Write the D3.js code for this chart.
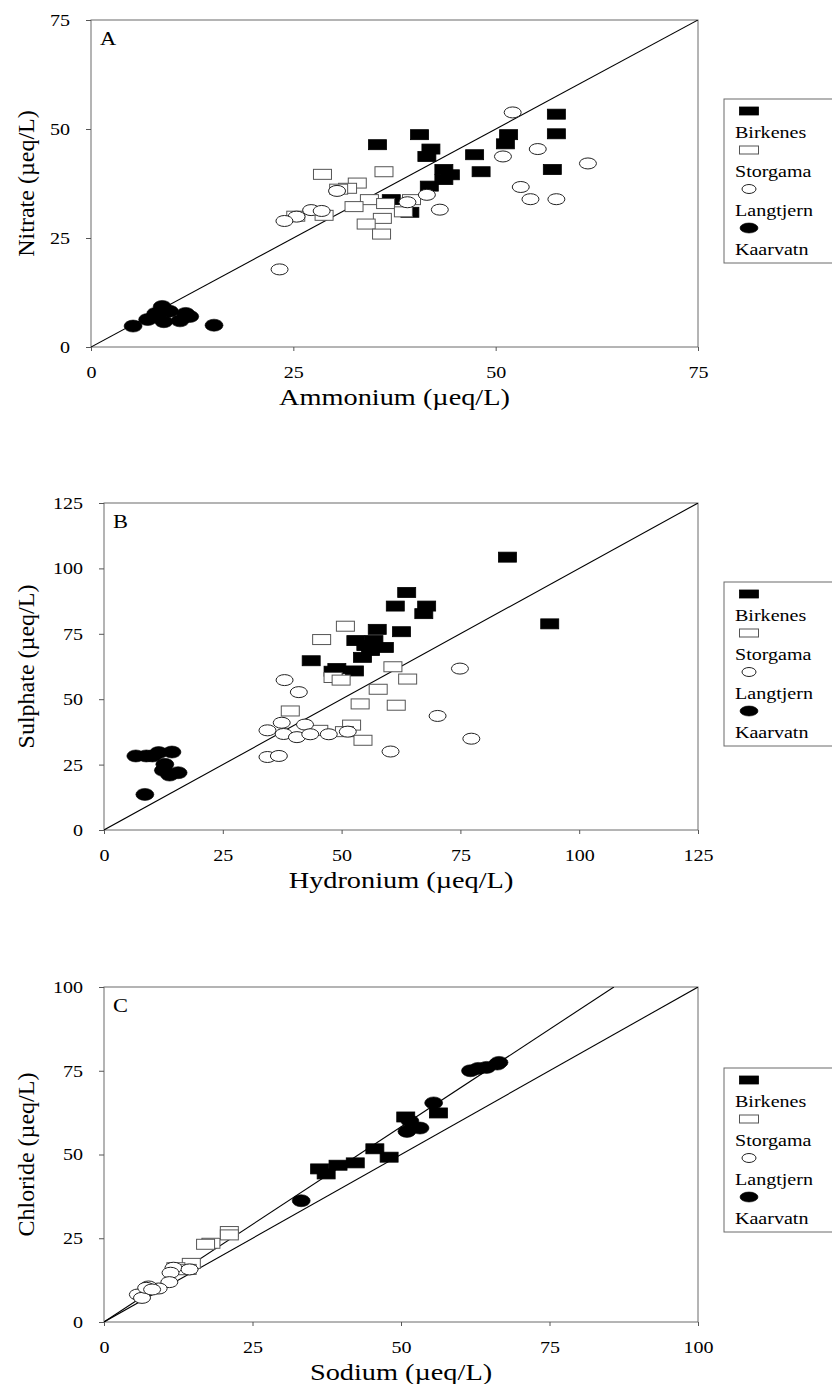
<!DOCTYPE html>
<html>
<head>
<meta charset="utf-8">
<script src="https://cdn.jsdelivr.net/npm/d3@7"></script>
<style>
  html, body { margin: 0; padding: 0; background: #fff; }
  svg { display: block; }
  text { font-family: "Liberation Serif", "Times New Roman", "DejaVu Serif", serif; fill: #000; }
</style>
</head>
<body>
<svg id="chart" width="832" height="1384"></svg>
<script>
// ---------------- DATA ----------------
const siteNames = ["Birkenes", "Storgama", "Langtjern", "Kaarvatn"];

// Panel A: Ammonium (x) vs Nitrate (y), µeq/L
const A_Birkenes = [[35.4,46.4],[40.6,48.7],[42.0,45.4],[41.5,43.7],[47.4,44.1],[51.6,48.7],[51.2,46.6],[57.5,53.4],[57.5,48.9],[57.0,40.7],[48.2,40.2],[43.6,40.7],[44.4,39.5],[43.6,38.4],[41.8,36.9],[37.1,33.8],[39.4,30.9]];
const A_Storgama = [[28.6,39.6],[36.2,40.2],[32.9,37.6],[31.7,36.4],[30.6,36.2],[34.4,33.8],[32.5,32.2],[36.4,32.9],[39.6,33.8],[38.6,31.0],[25.3,30.0],[28.8,30.2],[36.0,29.5],[34.0,28.2],[35.9,25.9]];
const A_Langtjern = [[52.1,53.8],[55.2,45.4],[50.9,43.7],[61.4,42.1],[53.1,36.7],[54.3,33.9],[57.5,33.9],[43.1,31.5],[41.5,34.9],[39.1,33.2],[30.4,35.8],[27.2,31.4],[28.5,31.2],[25.4,29.9],[23.9,28.9],[23.3,17.8]];
const A_Kaarvatn = [[8.8,9.3],[8.0,7.7],[9.7,8.2],[11.7,7.7],[7.0,6.3],[9.0,5.8],[11.0,6.0],[12.2,7.0],[5.2,4.8],[15.2,5.0]];

// Panel B: Hydronium (x) vs Sulphate (y), µeq/L
const B_Birkenes = [[84.9,104.3],[93.8,78.8],[63.7,90.8],[61.3,85.6],[67.9,85.6],[67.3,82.7],[57.5,76.7],[62.6,75.8],[53.0,72.4],[56.8,72.4],[55.1,70.5],[59.0,69.8],[56.1,68.6],[54.4,66.0],[43.6,64.7],[49.0,61.7],[48.2,60.7],[52.7,60.8]];
const B_Storgama = [[50.8,77.9],[45.8,72.8],[60.8,62.4],[63.9,57.7],[48.2,58.3],[49.9,57.3],[57.7,53.8],[53.9,48.2],[61.5,47.7],[39.2,45.5],[52.1,40.1],[50.6,37.6],[45.2,38.1],[54.5,34.3]];
const B_Langtjern = [[74.9,61.7],[38.0,57.3],[41.0,52.7],[70.2,43.6],[77.3,34.9],[37.4,41.0],[42.3,40.3],[34.4,38.1],[37.8,36.7],[40.6,35.5],[43.4,36.6],[47.3,36.6],[51.3,37.6],[60.3,30.0],[34.4,27.9],[36.8,28.3]];
const B_Kaarvatn = [[6.7,28.3],[8.9,28.3],[10.2,28.3],[11.5,29.6],[14.3,29.8],[12.8,25.1],[12.5,22.8],[13.8,21.0],[15.6,21.9],[8.6,13.6]];

// Panel C: Sodium (x) vs Chloride (y), µeq/L
const C_Birkenes = [[50.8,61.2],[56.3,62.4],[45.6,51.7],[48.0,49.2],[42.3,47.5],[39.4,46.8],[36.3,45.7],[37.4,44.2]];
const C_Storgama = [[21.1,27.0],[21.1,26.0],[18.0,23.5],[17.1,23.2],[14.7,17.5],[14.0,15.7],[12.1,16.2],[13.0,15.6]];
const C_Langtjern = [[11.7,16.2],[11.2,14.7],[14.4,15.7],[11.0,11.9],[9.2,10.0],[7.5,10.6],[5.7,8.2],[6.4,7.2],[7.1,10.2],[8.1,9.7]];
const C_Kaarvatn = [[61.7,75.0],[63.0,75.7],[64.4,76.0],[66.2,77.0],[66.5,77.5],[55.5,65.4],[53.2,57.9],[51.0,56.9],[51.5,60.0],[33.2,36.2]];

// Axis ticks
const A_ticks = [0, 25, 50, 75];
const B_ticks = [0, 25, 50, 75, 100, 125];
const C_ticks = [0, 25, 50, 75, 100];

// Reference line slopes (1:1 line; seawater Cl/Na ratio in panel C)
const A_slopes = [1];
const B_slopes = [1];
const C_slopes = [1, 1.165];

// ---------------- DRAWING ----------------
const svg = d3.select("#chart");
const SX = 1.18; // horizontal stretch of the original scan's lettering
const FONT = '"Liberation Serif", "Times New Roman", serif';

const panels = [
  { letter: "A", xLabel: "Ammonium (\u00b5eq/L)", yLabel: "Nitrate (\u00b5eq/L)",
    max: 75, ticks: A_ticks, slopes: A_slopes,
    data: [A_Birkenes, A_Storgama, A_Langtjern, A_Kaarvatn],
    left: 91, right: 698, top: 20, bottom: 347, legendTop: 99 },
  { letter: "B", xLabel: "Hydronium (\u00b5eq/L)", yLabel: "Sulphate (\u00b5eq/L)",
    max: 125, ticks: B_ticks, slopes: B_slopes,
    data: [B_Birkenes, B_Storgama, B_Langtjern, B_Kaarvatn],
    left: 104, right: 698, top: 503, bottom: 830, legendTop: 582 },
  { letter: "C", xLabel: "Sodium (\u00b5eq/L)", yLabel: "Chloride (\u00b5eq/L)",
    max: 100, ticks: C_ticks, slopes: C_slopes,
    data: [C_Birkenes, C_Storgama, C_Langtjern, C_Kaarvatn],
    left: 104, right: 698, top: 987, bottom: 1322, legendTop: 1068 }
];

function drawMarker(g, site, cx, cy, legend) {
  const w = legend ? 19 : 18, h = legend ? 8 : 10;
  if (site === 0) {
    g.append("rect").attr("x", cx - w/2).attr("y", cy - h/2).attr("width", w).attr("height", h)
      .attr("fill", "#000").attr("stroke", "#000").attr("stroke-width", 0.8);
  } else if (site === 1) {
    g.append("rect").attr("x", cx - w/2).attr("y", cy - h/2).attr("width", w).attr("height", h)
      .attr("fill", "#fff").attr("stroke", "#555").attr("stroke-width", 1);
  } else if (site === 2) {
    g.append("ellipse").attr("cx", cx).attr("cy", cy).attr("rx", legend ? 7 : 8.5).attr("ry", legend ? 4.5 : 5.5)
      .attr("fill", "#fff").attr("stroke", "#222").attr("stroke-width", 1);
  } else {
    g.append("ellipse").attr("cx", cx).attr("cy", cy).attr("rx", 9).attr("ry", legend ? 5 : 6)
      .attr("fill", "#000").attr("stroke", "#000").attr("stroke-width", 0.6);
  }
}

panels.forEach((p, pi) => {
  const x = d3.scaleLinear().domain([0, p.max]).range([p.left, p.right]);
  const y = d3.scaleLinear().domain([0, p.max]).range([p.bottom, p.top]);
  const g = svg.append("g");

  const clipId = "clip" + pi;
  svg.append("clipPath").attr("id", clipId).append("rect")
    .attr("x", p.left).attr("y", p.top).attr("width", p.right - p.left).attr("height", p.bottom - p.top);

  // frame
  g.append("rect").attr("x", p.left).attr("y", p.top)
    .attr("width", p.right - p.left).attr("height", p.bottom - p.top)
    .attr("fill", "none").attr("stroke", "#6a6a6a").attr("stroke-width", 1);

  // axes
  const xAxis = g.append("g").attr("transform", `translate(0,${p.bottom})`)
    .call(d3.axisBottom(x).tickValues(p.ticks).tickSize(4).tickPadding(15).tickFormat(d3.format("d")));
  const yAxis = g.append("g").attr("transform", `translate(${p.left},0)`)
    .call(d3.axisLeft(y).tickValues(p.ticks).tickSize(5).tickPadding(16).tickFormat(d3.format("d")));
  [xAxis, yAxis].forEach(ax => {
    ax.select(".domain").remove();
    ax.selectAll(".tick line").attr("stroke", "#555").attr("stroke-width", 1);
    ax.selectAll(".tick text").attr("font-family", FONT).attr("font-size", 17).attr("fill", "#000");
  });
  xAxis.selectAll(".tick text").attr("transform", `scale(${SX},1)`);
  yAxis.selectAll(".tick text").attr("x", -21 / SX).attr("transform", `scale(${SX},1)`);

  // reference lines
  const lines = g.append("g").attr("clip-path", `url(#${clipId})`);
  p.slopes.forEach(s => {
    const xEnd = Math.min(p.max, p.max / s);
    lines.append("line")
      .attr("x1", x(0)).attr("y1", y(0))
      .attr("x2", x(xEnd)).attr("y2", y(xEnd * s))
      .attr("stroke", "#000").attr("stroke-width", 1.1);
  });

  // points
  const pts = g.append("g");
  p.data.forEach((arr, si) => {
    arr.forEach(d => drawMarker(pts, si, x(d[0]), y(d[1]), false));
  });

  // panel letter
  g.append("text").attr("transform", `translate(${p.left + 9},${p.top + 25}) scale(${SX},1)`)
    .attr("font-size", 19).text(p.letter);

  // axis titles
  g.append("text").attr("transform", `translate(${(p.left + p.right) / 2},${p.bottom + 58}) scale(${SX},1)`)
    .attr("text-anchor", "middle").attr("font-size", 24).text(p.xLabel);
  g.append("text").attr("transform", `translate(34,${(p.top + p.bottom) / 2}) rotate(-90)`)
    .attr("text-anchor", "middle").attr("font-size", 24).text(p.yLabel);

  // legend
  const lg = g.append("g");
  const lt = p.legendTop;
  lg.append("rect").attr("x", 724).attr("y", lt).attr("width", 130).attr("height", 164)
    .attr("fill", "#fff").attr("stroke", "#6a6a6a").attr("stroke-width", 1);
  siteNames.forEach((name, si) => {
    const base = lt + si * 39;
    drawMarker(lg, si, 749, base + 12, true);
    lg.append("text").attr("transform", `translate(735,${base + 39}) scale(${SX},1)`)
      .attr("font-size", 17).text(name);
  });
});
</script>
</body>
</html>
